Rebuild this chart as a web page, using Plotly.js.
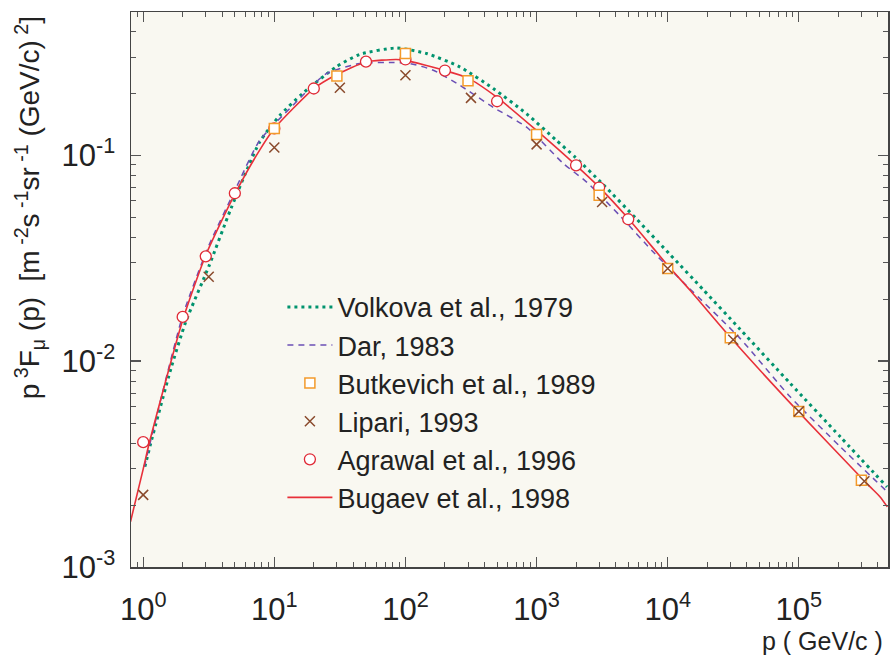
<!DOCTYPE html>
<html><head><meta charset="utf-8">
<script src="https://cdn.plot.ly/plotly-3.0.1.min.js"></script>
<style>html,body{margin:0;padding:0;background:#fff}#chart{width:891px;height:655px}</style>
</head><body><div id="chart"></div>
<script>
// ---- data ----
const volkovaP = [1.03, 1.14, 1.63, 2.11, 3.19, 4.67, 7.73, 11.0, 16.5, 29.7, 44.8, 85.0, 145, 259, 467, 839, 1420, 1960, 3220, 5790, 10400, 18700, 35600, 85900, 207000, 470000];
const volkovaF = [0.00307, 0.00398, 0.00923, 0.0155, 0.0292, 0.0551, 0.116, 0.156, 0.200, 0.269, 0.309, 0.332, 0.312, 0.269, 0.211, 0.159, 0.118, 0.0982, 0.0721, 0.0490, 0.0330, 0.0222, 0.0143, 0.00780, 0.00429, 0.00245];

const darP = [1.02, 2.0, 3.16, 5.01, 7.73, 13.9, 24.9, 44.8, 80.4, 108, 163, 259, 467, 839, 1600, 2410, 4330, 7760, 14000, 35600, 85900, 207000, 456000];
const darF = [0.00307, 0.0166, 0.0363, 0.0676, 0.118, 0.175, 0.249, 0.279, 0.282, 0.279, 0.259, 0.219, 0.171, 0.137, 0.0912, 0.0741, 0.0508, 0.0339, 0.0232, 0.0129, 0.00671, 0.00384, 0.00237];

const bugaevP = [0.80, 1.0, 1.11, 2.0, 3.0, 4.95, 7.73, 10, 20, 30, 50, 85, 100, 200, 300, 500, 1000, 2000, 3000, 5000, 10000, 14800, 29900, 96600, 302000, 350000, 417000, 473000];
const bugaevF = [0.00166, 0.00299, 0.00398, 0.0158, 0.0327, 0.064, 0.106, 0.135, 0.211, 0.247, 0.284, 0.292, 0.289, 0.258, 0.237, 0.191, 0.132, 0.0893, 0.070, 0.0493, 0.0292, 0.0221, 0.0131, 0.00578, 0.0027, 0.00245, 0.00219, 0.00196];

const butkevichP = [10, 30, 100, 300, 1000, 3000, 10000, 30000, 100000, 300000];
const butkevichF = [0.135, 0.243, 0.312, 0.230, 0.126, 0.064, 0.0282, 0.0130, 0.0057, 0.00264];

const lipariP = [1, 3.16, 10, 31.6, 100, 316, 1000, 3160, 10000, 31600, 100000, 316000];
const lipariF = [0.00224, 0.0257, 0.109, 0.213, 0.245, 0.190, 0.113, 0.0593, 0.0282, 0.0127, 0.0057, 0.00261];

const agrawalP = [1, 2, 3, 5, 10, 20, 50, 100, 200, 500, 2000, 3000, 5000];
const agrawalF = [0.00404, 0.0164, 0.0323, 0.0654, 0.135, 0.211, 0.285, 0.292, 0.258, 0.183, 0.0894, 0.0697, 0.0489];

const xTickVals = [1, 10, 100, 1000, 10000, 100000];
const xTickText = ['10<sup>0</sup>', '10<sup>1</sup>', '10<sup>2</sup>', '10<sup>3</sup>', '10<sup>4</sup>', '10<sup>5</sup>'];
const yTickVals = [0.001, 0.01, 0.1];
const yTickText = ['10<sup>-3</sup>', '10<sup>-2</sup>', '10<sup>-1</sup>'];

const seriesNames = ['Volkova et al., 1979', 'Dar, 1983', 'Butkevich et al., 1989', 'Lipari, 1993', 'Agrawal et al., 1996', 'Bugaev et al., 1998'];

// ---- minor tick positions (axis decoration) ----
function minorTicks(lo, hi) {
  const out = [];
  for (let e = lo; e <= hi; e++) for (let m = 2; m <= 9; m++) out.push(m * Math.pow(10, e));
  return out;
}

const FONT = 'Liberation Sans, Arial, Helvetica, sans-serif';

const traces = [
  {x: volkovaP, y: volkovaF, name: seriesNames[0], legendrank: 1, legendgroup: 'a', mode: 'lines',
   line: {color: '#00936e', width: 3, dash: '3px,4px', shape: 'spline', smoothing: 0.6}},
  {x: darP, y: darF, name: seriesNames[1], legendrank: 2, legendgroup: 'b', mode: 'lines',
   line: {color: '#6b4fb5', width: 1.5, dash: '6px,5px', shape: 'spline', smoothing: 0.6}},
  {x: bugaevP, y: bugaevF, name: seriesNames[5], legendrank: 6, legendgroup: 'f', mode: 'lines',
   line: {color: '#e8303a', width: 1.6, shape: 'spline', smoothing: 0.6}},
  {x: agrawalP, y: agrawalF, name: seriesNames[4], legendrank: 5, legendgroup: 'e', mode: 'markers',
   marker: {symbol: 'circle', size: 11, color: '#ffffff', line: {color: '#e02a36', width: 1.3}}},
  {x: butkevichP, y: butkevichF, name: seriesNames[2], legendrank: 3, legendgroup: 'c', mode: 'markers',
   marker: {symbol: 'square', size: 10, color: '#ffffff', line: {color: '#f39a2b', width: 1.5}}},
  {x: lipariP, y: lipariF, name: seriesNames[3], legendrank: 4, legendgroup: 'd', mode: 'markers',
   marker: {symbol: 'x-thin-open', size: 10, color: '#8a4a2c', line: {color: '#8a4a2c', width: 1.5}}}
];

const axisCommon = {
  type: 'log', ticks: 'inside', ticklen: 10, tickwidth: 1.3, tickcolor: '#555',
  showline: true, linecolor: '#444', linewidth: 1.5, mirror: 'allticks',
  showgrid: false, zeroline: false,
  tickfont: {family: FONT, size: 31, color: '#222'}
};

const layout = {
  width: 891, height: 655,
  margin: {l: 131, r: 3, t: 12, b: 88},
  paper_bgcolor: '#ffffff', plot_bgcolor: '#f9f8f1',
  showlegend: true,
  legend: {x: 0.20, y: 0.512, xanchor: 'left', yanchor: 'top', bgcolor: 'rgba(0,0,0,0)',
           font: {family: FONT, size: 27, color: '#222'}, traceorder: 'grouped', tracegroupgap: 0,
           itemwidth: 45},
  xaxis: Object.assign({}, axisCommon, {
    range: [-0.093, 5.68], tickmode: 'array', tickvals: xTickVals, ticktext: xTickText,
    ticklabelstandoff: 14,
    minor: {tickmode: 'array', tickvals: minorTicks(-1, 5), ticks: 'inside', ticklen: 5, tickwidth: 1, tickcolor: '#555', showgrid: false}
  }),
  yaxis: Object.assign({}, axisCommon, {
    range: [-3, -0.304], tickmode: 'array', tickvals: yTickVals, ticktext: yTickText,
    ticklabelstandoff: 8,
    minor: {tickmode: 'array', tickvals: minorTicks(-3, -1), ticks: 'inside', ticklen: 5, tickwidth: 1, tickcolor: '#555', showgrid: false}
  }),
  annotations: [
    {text: 'p<sup> 3</sup>F<sub>μ</sub> (p)  [m<sup> -2</sup>s<sup> -1</sup>sr<sup> -1</sup> (GeV/c)<sup> 2</sup>]',
     xref: 'paper', yref: 'paper', x: -0.1334, y: 0.995, xanchor: 'center', yanchor: 'top',
     textangle: -90, showarrow: false, font: {family: FONT, size: 28, color: '#222'}},
    {text: 'p ( GeV/c )', xref: 'paper', yref: 'paper', x: 0.996, y: -0.1333,
     xanchor: 'right', yanchor: 'middle', showarrow: false, font: {family: FONT, size: 25, color: '#222'}}
  ]
};

Plotly.newPlot('chart', traces, layout, {displayModeBar: false, staticPlot: true});
</script></body></html>
